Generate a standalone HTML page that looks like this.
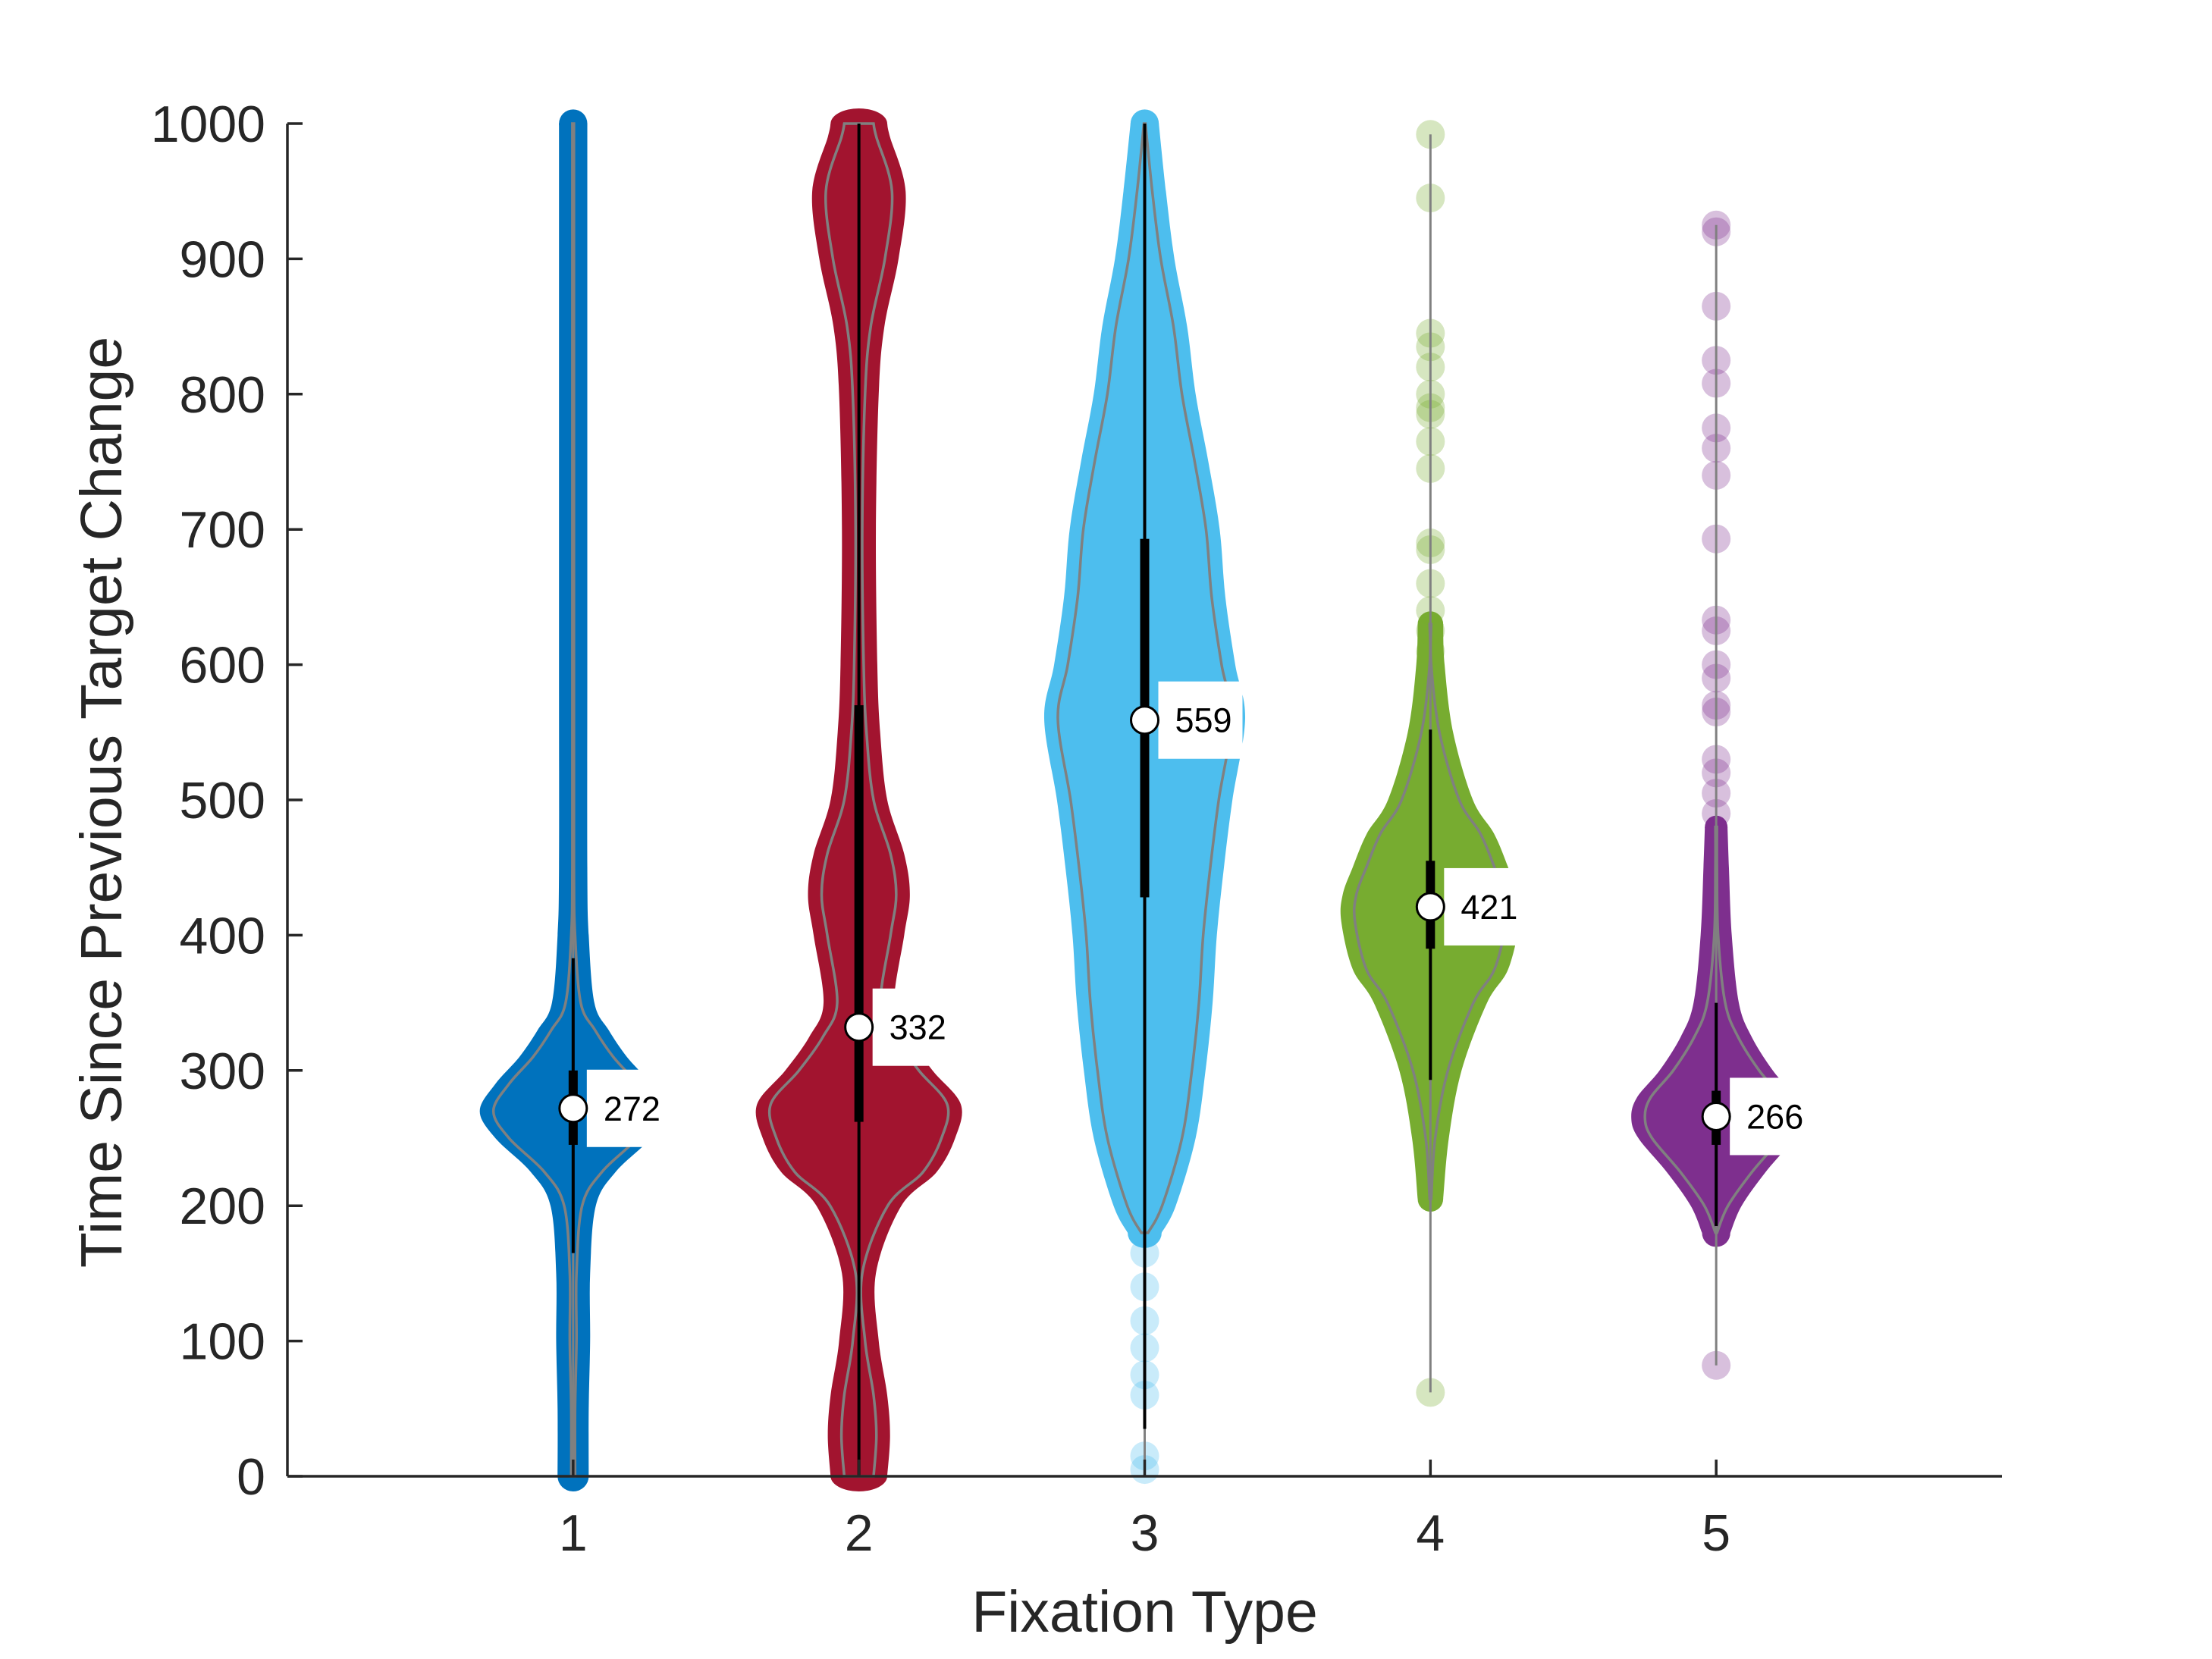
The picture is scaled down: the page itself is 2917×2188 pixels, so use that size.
<!DOCTYPE html>
<html><head><meta charset="utf-8"><style>
html,body{margin:0;padding:0;background:#fff}
svg{display:block}
text{font-family:"Liberation Sans",Arial,sans-serif}
</style></head><body>
<svg id="chart" width="2917" height="2188" viewBox="0 0 2917 2188" xmlns="http://www.w3.org/2000/svg">
<rect width="2917" height="2188" fill="#fff"/>
<g id="violins"></g>
<g id="axes"></g>
</svg>
<script>
const categories = ["1","2","3","4","5"];
const colors = ["#0072BD","#A2142F","#4DBEEE","#77AC30","#7E2F8E"];
const yTicks = [0,100,200,300,400,500,600,700,800,900,1000];
const medians = [272,332,559,421,266];
const q1 = [245,262,428,390,245];
const q3 = [300,570,693,455,285];
const whiskLo = [165,0,35,293,185];
const whiskHi = [383,1000,1000,552,350];
const rangeLo = [0,0,0,62,82];
const rangeHi = [1000,1000,1000,992,925];
// density profiles: [y value, half width]
const dens1 = [[0,11],[50,11],[100,12],[150,12],[200,16],[225,30],[250,55],[270,66],[290,55],[310,38],[330,25],[350,15],[400,11],[450,10],[600,10],[800,10],[1000,10]];
const dens2 = [[0,20],[30,22],[60,20],[100,14],[150,12],[200,30],[225,55],[250,68],[275,72],[300,52],[325,35],[350,25],[400,32],[430,36],[460,32],[500,20],[550,15],[600,13],[700,12],[800,14],[850,18],[900,28],[950,33],[990,22],[1000,20]];
const dens3 = [[180,12],[200,22],[250,36],[300,43],[350,48],[400,51],[450,56],[500,62],[560,71],[600,64],[650,57],[700,53],[750,45],[800,36],[850,30],[900,21],[950,15],[1000,10]];
const dens4 = [[205,9],[250,13],[300,22],[350,40],[375,55],[410,63],[430,62],[450,55],[475,45],[500,30],[550,16],[600,10],[630,9]];
const dens5 = [[180,10],[200,18],[225,35],[250,55],[265,60],[280,56],[300,40],[325,25],[350,16],[400,11],[450,9],[480,8]];
const densities = [dens1,dens2,dens3,dens4,dens5];
const outliers3 = [165,140,115,95,75,60,15,5];
const outliers4 = [992,945,845,835,820,800,790,785,765,745,690,685,660,640,625,610,62];
const outliers5 = [925,920,865,825,808,775,760,740,693,633,625,600,590,570,565,530,520,505,490,82];
const outlierSets = [[],[],outliers3,outliers4,outliers5];

const X0=379, X1=2640, Y0=1947, Y1=163;
const xs = c => X0 + (c/6)*(X1-X0);
const ys = v => Y0 - (v/1000)*(Y0-Y1);
const WS = 1.866;
const NS="http://www.w3.org/2000/svg";
function mk(tag, attrs, parent){const e=document.createElementNS(NS,tag);for(const k in attrs)e.setAttribute(k,attrs[k]);parent.appendChild(e);return e;}

function smoothPath(pts){
  let d=`M${pts[0][0]},${pts[0][1]}`;
  for(let i=0;i<pts.length-1;i++){
    const p0=pts[Math.max(0,i-1)],p1=pts[i],p2=pts[i+1],p3=pts[Math.min(pts.length-1,i+2)];
    const c1=[p1[0]+(p2[0]-p0[0])/6,p1[1]+(p2[1]-p0[1])/6];
    const c2=[p2[0]-(p3[0]-p1[0])/6,p2[1]-(p3[1]-p1[1])/6];
    d+=` C${c1[0]},${c1[1]} ${c2[0]},${c2[1]} ${p2[0]},${p2[1]}`;
  }
  return d;
}
function violinPath(cx, dens, off){
  const right=dens.map(([v,w])=>[cx+Math.max(1,w*WS-off), ys(v)]);
  const left=dens.slice().reverse().map(([v,w])=>[cx-Math.max(1,w*WS-off), ys(v)]);
  let d=smoothPath(right);
  d+=` L${left[0][0]},${left[0][1]}`;
  d+=smoothPath(left).replace(/^M[^C]*/,' ');
  return d+'Z';
}

const gV=document.getElementById('violins');
categories.forEach((cat,i)=>{
  const cx=xs(i+1);
  const g=mk('g',{},gV);
  
  
  const dens=densities[i];
  const top=dens[dens.length-1], bot=dens[0];
  const body=mk('path',{d:violinPath(cx,dens,0),fill:colors[i]},g);
  
  
  const rt=Math.min(top[1]*WS,20), rb=Math.min(bot[1]*WS,20);
  mk('rect',{x:cx-top[1]*WS,y:ys(top[0])-rt*0.3,width:top[1]*WS*2,height:rt*0.6+1,rx:rt,fill:colors[i]},g);
  mk('ellipse',{cx:cx,cy:ys(top[0]),rx:top[1]*WS,ry:rt,fill:colors[i]},g);
  mk('ellipse',{cx:cx,cy:ys(bot[0]),rx:bot[1]*WS,ry:rb,fill:colors[i]},g);
  outlierSets[i].forEach(v=>{
    const c=mk('circle',{cx:cx,cy:ys(v),r:19,fill:colors[i],'fill-opacity':0.3},g);
    
    
  });
  const ol=mk('path',{d:violinPath(cx,dens,18),fill:'none',stroke:'#808080','stroke-width':3.5},g);
  
  
  const rl=mk('line',{x1:cx,x2:cx,y1:ys(rangeLo[i]),y2:ys(rangeHi[i]),stroke:'#808080','stroke-width':3},g);
  
  
  const wl=mk('line',{x1:cx,x2:cx,y1:ys(whiskLo[i]),y2:ys(whiskHi[i]),stroke:'#000','stroke-width':4},g);
  
  
  const bx=mk('rect',{x:cx-6,width:12,y:ys(q3[i]),height:ys(q1[i])-ys(q3[i]),fill:'#000'},g);
  
  
  const my=ys(medians[i]);
  const lb=mk('rect',{x:cx+18,y:my-51,width:111,height:102,fill:'#fff'},g);
  
  
  const t=mk('text',{x:cx+40,y:my+16,'font-size':45,fill:'#000'},g);
  t.textContent=medians[i];
  
  
  const mc=mk('circle',{cx:cx,cy:my,r:18,fill:'#fff',stroke:'#000','stroke-width':3},g);
  
  
});

const gA=document.getElementById('axes');
const ya=mk('line',{x1:X0,x2:X0,y1:Y1,y2:Y0,stroke:'#262626','stroke-width':3.5},gA);


const xa=mk('line',{x1:X0,x2:X1,y1:Y0,y2:Y0,stroke:'#262626','stroke-width':3.5},gA);


yTicks.forEach(v=>{
  const y=ys(v);
  mk('line',{x1:X0,x2:X0+20,y1:y,y2:y,stroke:'#262626','stroke-width':3.5},gA);
  const t=mk('text',{x:350,y:y+24,'font-size':68,fill:'#262626','text-anchor':'end'},gA);
  t.textContent=v;
  
  
});
categories.forEach((c,i)=>{
  const x=xs(i+1);
  mk('line',{x1:x,x2:x,y1:Y0,y2:Y0-22,stroke:'#262626','stroke-width':3.5},gA);
  const t=mk('text',{x:x,y:2045,'font-size':68,fill:'#262626','text-anchor':'middle'},gA);
  t.textContent=c;
  
  
});
const xl=mk('text',{x:(X0+X1)/2,y:2152,'font-size':77,fill:'#262626','text-anchor':'middle'},gA);
xl.textContent='Fixation Type';


const yl=mk('text',{x:0,y:0,'font-size':77,fill:'#262626','text-anchor':'middle',transform:'translate(160,1058) rotate(-90)'},gA);
yl.textContent='Time Since Previous Target Change';


</script>
</body></html>
